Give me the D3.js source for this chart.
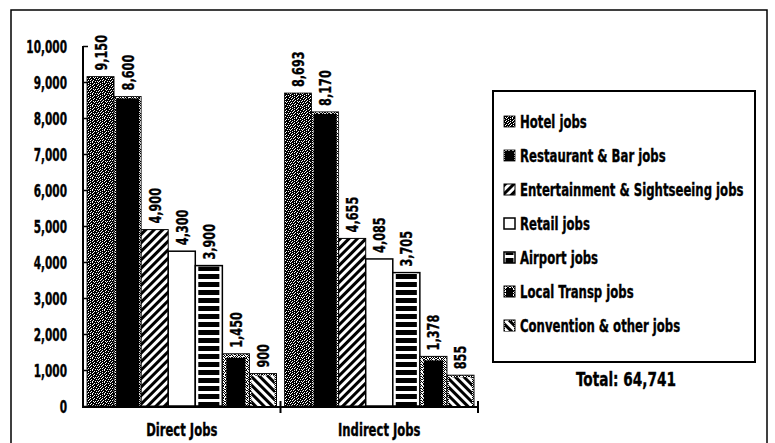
<!DOCTYPE html>
<html>
<head>
<meta charset="utf-8">
<script src="https://cdn.jsdelivr.net/npm/d3@7"></script>
<style>
  html, body { margin: 0; padding: 0; background: #fff; }
  svg text { font-family: "Liberation Sans Narrow", "DejaVu Sans Condensed", "Liberation Sans", sans-serif; font-weight: bold; fill: #000; stroke: #000; stroke-width: 0.35; }
</style>
</head>
<body>
<svg id="chart" width="775" height="443"></svg>
<script>
// Job counts by category and job type
const categories = ["Direct Jobs", "Indirect Jobs"];
const seriesNames = [
  "Hotel jobs",
  "Restaurant & Bar jobs",
  "Entertainment & Sightseeing jobs",
  "Retail jobs",
  "Airport jobs",
  "Local Transp jobs",
  "Convention & other jobs"
];
const directJobs   = [9150, 8600, 4900, 4300, 3900, 1450, 900];
const indirectJobs = [8693, 8170, 4655, 4085, 3705, 1378, 855];
const yTickValues  = [0, 1000, 2000, 3000, 4000, 5000, 6000, 7000, 8000, 9000, 10000];

const valuesByCategory = [directJobs, indirectJobs];
const total = d3.sum(directJobs) + d3.sum(indirectJobs);
const fmt = d3.format(",");

// horizontal squeeze for the tall condensed lettering
const SQX = 0.77;

const svg = d3.select("#chart");
const defs = svg.append("defs");

// Bitmap tiles for the stippled fills (1 = black pixel)
const stippleDark = [
  "110111011011",
  "101101110111",
  "111011011101",
  "011110111011",
  "110101101111",
  "101111011010",
  "111010111101",
  "010111101111",
  "111101011011",
  "101011110110",
  "110111010111",
  "011101111101"
];
const stippleLight = [
  "100101001010",
  "010010110001",
  "101001010110",
  "000110100101",
  "110100010010",
  "001011001101",
  "100100110010",
  "011010001011",
  "100001010100",
  "010110101001",
  "101001100110",
  "000110010101"
];

function bitmapPattern(id, rows) {
  const p = defs.append("pattern").attr("id", id)
    .attr("patternUnits", "userSpaceOnUse")
    .attr("width", rows[0].length).attr("height", rows.length);
  p.append("rect").attr("width", rows[0].length).attr("height", rows.length).attr("fill", "#fff");
  rows.forEach((row, j) => {
    row.split("").forEach((c, i) => {
      if (c === "1") p.append("rect").attr("x", i).attr("y", j).attr("width", 1).attr("height", 1).attr("fill", "#000");
    });
  });
}
bitmapPattern("stipDark", stippleDark);
bitmapPattern("stipLight", stippleLight);

function hatchPattern(id, angle, period, lineW) {
  const p = defs.append("pattern").attr("id", id)
    .attr("patternUnits", "userSpaceOnUse")
    .attr("width", period).attr("height", period)
    .attr("patternTransform", `rotate(${angle})`);
  p.append("rect").attr("width", period).attr("height", period).attr("fill", "#fff");
  p.append("rect").attr("width", lineW).attr("height", period).attr("fill", "#000");
}
hatchPattern("hatchFwd", 45, 6, 3);
hatchPattern("hatchBack", -45, 6, 3);

// horizontal stripes
(function () {
  const p = defs.append("pattern").attr("id", "stripes")
    .attr("patternUnits", "userSpaceOnUse").attr("width", 8).attr("height", 8);
  p.append("rect").attr("width", 8).attr("height", 8).attr("fill", "#fff");
  p.append("rect").attr("y", 2).attr("width", 8).attr("height", 5).attr("fill", "#000");
})();

// Visual style of each job type: outer fill, optional inner core inset
const styles = [
  { outer: "url(#stipDark)", stroke: "#000", sw: 0.8, inset: 0, core: null },
  { outer: "url(#stipLight)", stroke: "#000", sw: 0.8, inset: 2, core: "#000" },
  { outer: "url(#hatchFwd)", stroke: "#000", sw: 1, inset: 0, core: null },
  { outer: "#fff", stroke: "#000", sw: 1.5, inset: 0, core: null },
  { outer: "#fff", stroke: "#000", sw: 1.5, inset: 3, insetY: 1, core: "url(#stripes)" },
  { outer: "url(#stipLight)", stroke: "#000", sw: 1, inset: 4, core: "#000" },
  { outer: "url(#stipLight)", stroke: "#000", sw: 1, inset: 2, core: "url(#hatchBack)" }
];

function drawStyledRect(g, s, x, y, w, h, scale) {
  g.append("rect").attr("x", x).attr("y", y).attr("width", w).attr("height", h)
    .attr("fill", s.outer).attr("stroke", s.stroke).attr("stroke-width", s.sw);
  if (s.core) {
    const ix = s.inset * scale;
    const iy = (s.insetY !== undefined ? s.insetY : s.inset) * scale;
    g.append("rect").attr("x", x + ix).attr("y", y + iy)
      .attr("width", Math.max(0, w - 2 * ix)).attr("height", Math.max(0, h - iy))
      .attr("fill", s.core);
  }
}

// text placed at (x, y), squeezed horizontally in its own reading direction
function label(parent, x, y, str, size, anchor, rot, sq) {
  const rotate = rot ? ` rotate(${rot})` : "";
  return parent.append("text")
    .attr("transform", `translate(${x},${y})${rotate} scale(${sq || SQX},1)`)
    .attr("text-anchor", anchor)
    .attr("font-size", size)
    .text(str);
}

// Outer frame
svg.append("rect").attr("x", 11).attr("y", 10).attr("width", 756).attr("height", 460)
  .attr("fill", "none").attr("stroke", "#000").attr("stroke-width", 1.5);

// Scales
const x0 = d3.scaleBand().domain(categories).range([83, 478]).padding(0);
const x1 = d3.scaleBand().domain(d3.range(seriesNames.length))
  .range([4, x0.bandwidth() - 4]).padding(0);
const y = d3.scaleLinear().domain([0, 10000]).range([406, 46]);

// Bars with rotated value labels
const plot = svg.append("g");
categories.forEach((cat, ci) => {
  valuesByCategory[ci].forEach((v, si) => {
    const g = plot.append("g");
    const bx = x0(cat) + x1(si);
    const bw = x1.bandwidth();
    drawStyledRect(g, styles[si], bx, y(v), bw, y(0) - y(v), 1);
    label(plot, bx + bw / 2 + 6, y(v) - 6, fmt(v), 16.5, "start", -90, 0.76);
  });
});

// Y axis
const yAxis = d3.axisLeft(y).tickValues(yTickValues).tickFormat(fmt).tickSize(-5).tickPadding(16);
const yg = svg.append("g").attr("transform", "translate(83,0)").call(yAxis);
yg.select(".domain").attr("stroke-width", 2).attr("d", `M-0,${y(10000)}V${y(0) + 2}`);
yg.selectAll(".tick line").attr("stroke-width", 1.5);
yg.selectAll(".tick text")
  .attr("font-size", 17).attr("font-family", null).attr("fill", null)
  .attr("x", null).attr("dy", "0.36em")
  .attr("transform", "translate(-16,0) scale(0.69,1)");

// X axis
const xg = svg.append("g").attr("transform", `translate(0,${y(0) + 1})`);
xg.append("line").attr("x1", 83).attr("x2", 478).attr("stroke", "#000").attr("stroke-width", 2);
[x0.range()[0] + x0.bandwidth(), x0.range()[1]].forEach(tx => {
  xg.append("line").attr("x1", tx).attr("x2", tx).attr("y1", -6).attr("y2", 6)
    .attr("stroke", "#000").attr("stroke-width", 2);
});
categories.forEach(cat => {
  label(xg, x0(cat) + x0.bandwidth() / 2, 29, cat, 17, "middle", 0, 0.76);
});

// Legend
const legend = svg.append("g");
legend.append("rect").attr("x", 493).attr("y", 91).attr("width", 262).attr("height", 271)
  .attr("fill", "#fff").attr("stroke", "#000").attr("stroke-width", 2);
seriesNames.forEach((name, i) => {
  const cy = 122 + i * 34;
  const g = legend.append("g");
  drawStyledRect(g, styles[i], 504, cy - 6, 11, 11, 0.5);
  label(g, 520, cy + 6, name, 17, "start", 0, 0.765);
});

// Total
label(svg, 626, 386, "Total: " + fmt(total), 19.5, "middle", 0, 0.78);
</script>
</body>
</html>
